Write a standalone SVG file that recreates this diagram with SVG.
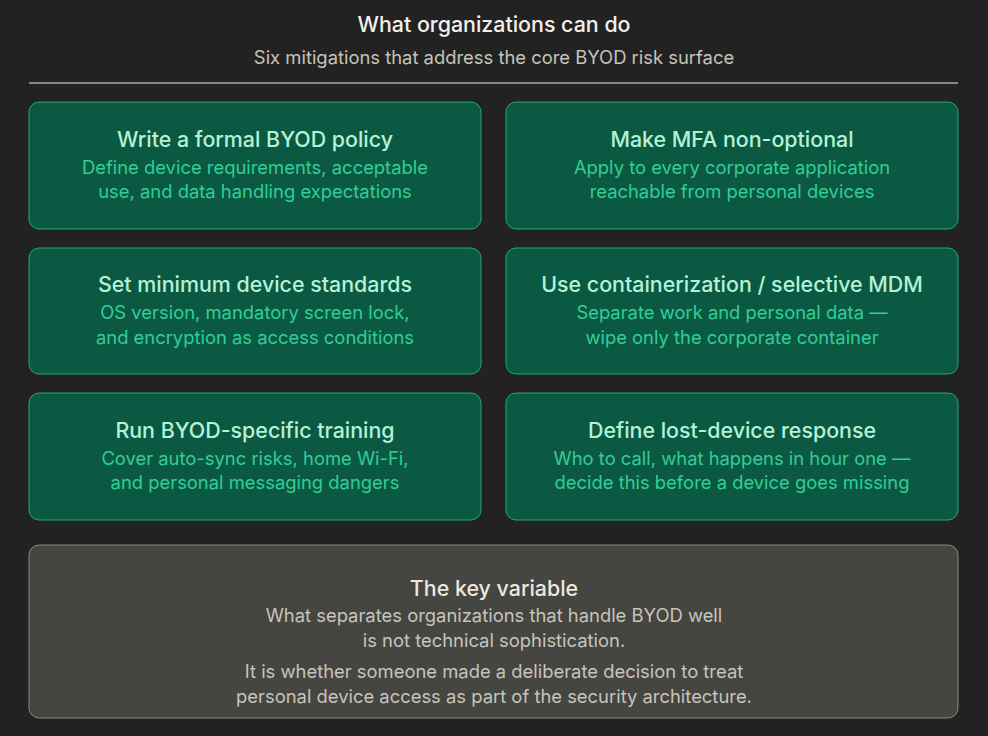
<svg xmlns="http://www.w3.org/2000/svg" width="988" height="736" viewBox="0 0 988 736">
<style>
text{font-family:Inter,"Noto Sans",sans-serif;text-anchor:middle}
.b{fill:#0c5943;stroke:#22a77b;stroke-width:1}
.t{fill:#b4f2d6;font-size:21.4px;font-weight:500}
.s{fill:#2fcf95;font-size:18.4px}
.kt{fill:#ebe8dd;font-size:21.4px;font-weight:500}
.ks{fill:#c7c4b9;font-size:18.4px}
</style>
<rect width="988" height="736" fill="#232222"/>
<text x="494" y="32" fill="#f2f0ea" font-size="21.4" font-weight="500">What organizations can do</text>
<text x="494" y="64" fill="#c6c3b8" font-size="18.4">Six mitigations that address the core BYOD risk surface</text>
<line x1="29" y1="83" x2="958" y2="83" stroke="#8a8883" stroke-width="2"/>
<g id="n1"><rect class="b" x="29" y="102" width="452" height="127" rx="10"/><text class="t" x="255" y="147">Write a formal BYOD policy</text><text class="s" x="255" y="174">Define device requirements, acceptable</text><text class="s" x="255" y="198">use, and data handling expectations</text></g>
<g id="n2"><rect class="b" x="506" y="102" width="452" height="127" rx="10"/><text class="t" x="732" y="147">Make MFA non-optional</text><text class="s" x="732" y="174">Apply to every corporate application</text><text class="s" x="732" y="198">reachable from personal devices</text></g>
<g id="n3"><rect class="b" x="29" y="248" width="452" height="126" rx="10"/><text class="t" x="255" y="292">Set minimum device standards</text><text class="s" x="255" y="319">OS version, mandatory screen lock,</text><text class="s" x="255" y="344">and encryption as access conditions</text></g>
<g id="n4"><rect class="b" x="506" y="248" width="452" height="126" rx="10"/><text class="t" x="732" y="292">Use containerization / selective MDM</text><text class="s" x="732" y="319">Separate work and personal data —</text><text class="s" x="732" y="344">wipe only the corporate container</text></g>
<g id="n5"><rect class="b" x="29" y="393" width="452" height="127" rx="10"/><text class="t" x="255" y="438">Run BYOD-specific training</text><text class="s" x="255" y="465">Cover auto-sync risks, home Wi-Fi,</text><text class="s" x="255" y="489">and personal messaging dangers</text></g>
<g id="n6"><rect class="b" x="506" y="393" width="452" height="127" rx="10"/><text class="t" x="732" y="438">Define lost-device response</text><text class="s" x="732" y="465">Who to call, what happens in hour one —</text><text class="s" x="732" y="489">decide this before a device goes missing</text></g>
<g id="key"><rect x="29" y="545" width="929" height="173" rx="10" fill="#454542" stroke="#8a8883"/>
<text class="kt" x="494" y="596">The key variable</text>
<text class="ks" x="494" y="622">What separates organizations that handle BYOD well</text>
<text class="ks" x="494" y="647">is not technical sophistication.</text>
<text class="ks" x="494" y="678">It is whether someone made a deliberate decision to treat</text>
<text class="ks" x="494" y="703">personal device access as part of the security architecture.</text></g>
<g id="connectors"/>
</svg>
